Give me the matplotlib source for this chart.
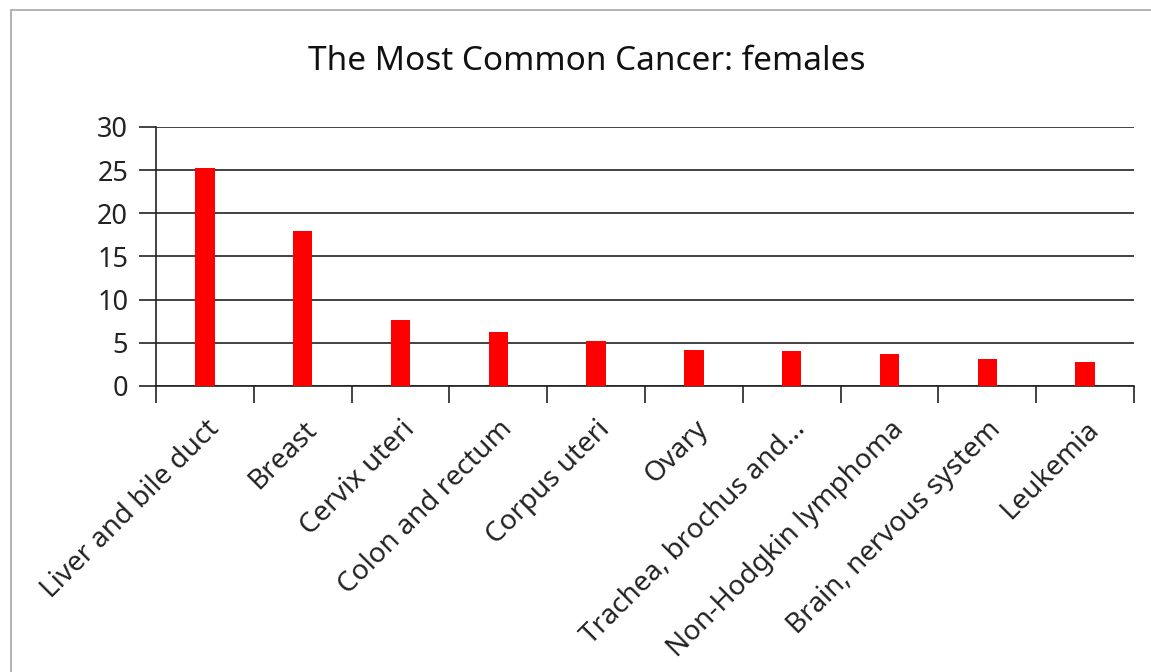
import numpy as np
import matplotlib.pyplot as plt
from matplotlib.patches import Rectangle

plt.rcParams['font.family'] = ['Noto Sans', 'DejaVu Sans']

# cancer sites and values
categories = ['Liver and bile duct', 'Breast', 'Cervix uteri', 'Colon and rectum',
              'Corpus uteri', 'Ovary', 'Trachea, brochus and...', 'Non-Hodgkin lymphoma',
              'Brain, nervous system', 'Leukemia']
values = [25.2, 18.0, 7.6, 6.2, 5.2, 4.2, 4.1, 3.7, 3.1, 2.8]
yticks = [0, 5, 10, 15, 20, 25, 30]

fig = plt.figure(figsize=(11.51, 6.72), dpi=100)
ax = fig.add_axes([156/1151, 1-386/672, (1134-156)/1151, (386-127)/672])

# grey frame of the slide
fig.patches.append(Rectangle((11/1151, -0.1), 1.2, 1-10/672+0.1, transform=fig.transFigure,
                             fill=False, edgecolor='#a6a6a6', linewidth=1.2))

x = np.arange(len(categories))
ax.bar(x, values, width=0.2, color='#ff0000', zorder=3)

ax.set_xlim(-0.5, len(categories)-0.5)
ax.set_ylim(0, 30)
ax.set_yticks(yticks)
ax.set_yticklabels([str(v) for v in yticks], fontsize=19.5, color='#222222')
ax.yaxis.grid(True, color='#222222', linewidth=1.2, zorder=0)
ax.tick_params(axis='y', length=12, width=1.2, color='#222222', pad=8)

# category boundaries carry the ticks, labels sit on the bar centres
ax.set_xticks(np.arange(len(categories)+1)-0.5)
ax.set_xticklabels([])
ax.set_xticks(x, minor=True)
ax.set_xticklabels(categories, minor=True, rotation=45, ha='right', rotation_mode='anchor',
                   fontsize=20, color='#222222')
ax.tick_params(axis='x', which='major', length=12, width=1.2, color='#222222')
ax.tick_params(axis='x', which='minor', length=0, pad=21)

for s in ['top', 'right']:
    ax.spines[s].set_visible(False)
for s in ['left', 'bottom']:
    ax.spines[s].set_color('#222222')
    ax.spines[s].set_linewidth(1.2)

fig.text(587/1151, 1-62/672, 'The Most Common Cancer: females', ha='center', va='center',
         fontsize=24, color='#111111')

fig.savefig('out.png', dpi=100)
